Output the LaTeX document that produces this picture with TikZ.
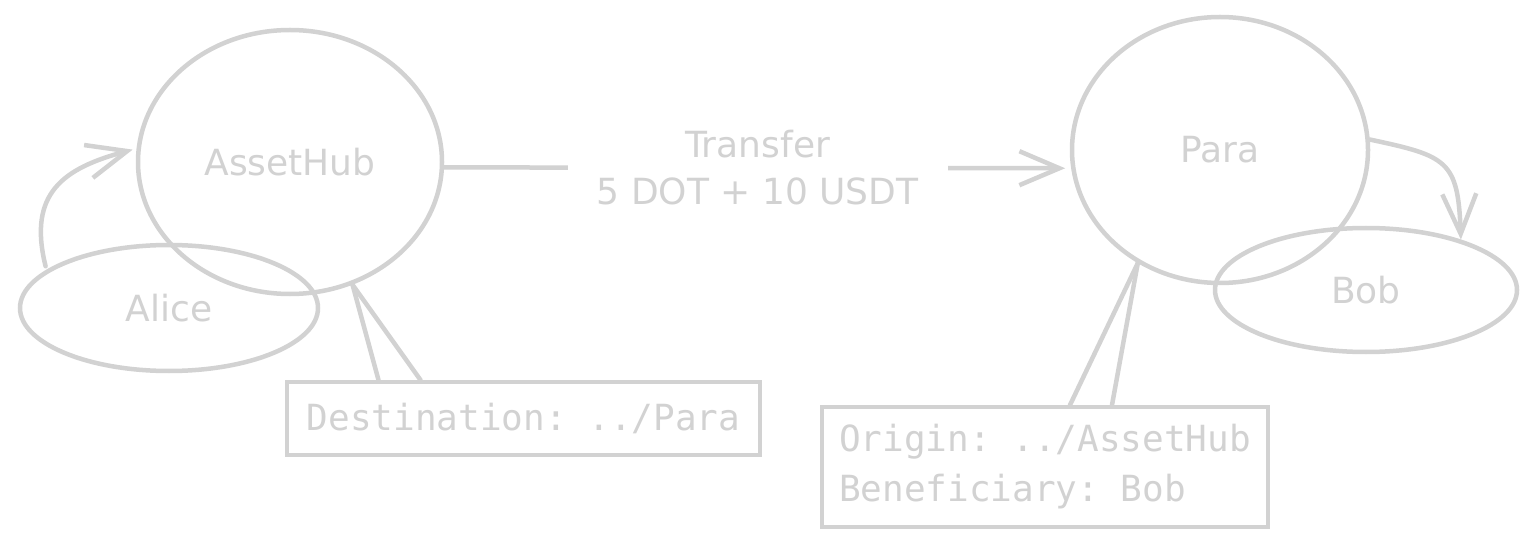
\documentclass[tikz,border=0pt]{standalone}
\usepackage{fontspec}
\setmainfont{DejaVu Sans}
\setmonofont{DejaVu Sans Mono}
\usetikzlibrary{shapes.geometric, arrows.meta}
\definecolor{sketch}{RGB}{210,210,210}

\begin{document}
\begin{tikzpicture}[x=1pt,y=1pt,
		chain/.style={ellipse,draw=sketch,line width=4.5pt,inner sep=0pt,text=sketch,font=\fontsize{36}{43}\selectfont},
		memo/.style={rectangle,draw=sketch,line width=4pt,inner sep=0pt,text=sketch,font=\ttfamily\fontsize{36}{50}\selectfont},
		link/.style={draw=sketch,line width=4.5pt,line cap=round},
		>={Straight Barb[length=40pt,width=34pt]}]
		\fill[white] (0,0) rectangle (1537,547);
		\useasboundingbox (0,0) rectangle (1537,547);
		% chains and accounts
		\node[chain,minimum width=304pt,minimum height=264pt] (hub) at (290,385) {AssetHub};
		\node[chain,minimum width=298pt,minimum height=126pt] (alice) at (169,239) {Alice};
		\node[chain,minimum width=296pt,minimum height=266pt] (para) at (1220,397) {Para};
		\node[chain,minimum width=302pt,minimum height=124pt] (bob) at (1366,257) {Bob};
		% notes
		\node[memo,minimum width=473pt,minimum height=73pt] (dest) at (523.5,128.5) {Destination: ../Para};
		\node[memo,minimum width=446pt,minimum height=120pt,align=left] (orig) at (1045,80) {Origin: ../AssetHub\\Beneficiary: Bob};
		% arrows
		\draw[link,->,shorten >=4pt] ([yshift=4pt]alice.163) to[out=104,in=195,looseness=1.3] (hub.175);
		\draw[link,->,shorten >=6pt] (hub.-2) -- node[fill=white,text=sketch,align=center,minimum width=380pt,font=\fontsize{36}{47}\selectfont] (xfer) {Transfer\\5 DOT + 10 USDT} (para.187);
		\draw[link,->] (para.4) to[out=-12,in=92,looseness=1.5] (bob.28);
		% callouts
		\draw[link] (hub.-63) -- ([xshift=-145pt]dest.north);
		\draw[link] (hub.-63) -- ([xshift=-103pt]dest.north);
		\draw[link] (para.234) -- ([xshift=25pt]orig.north);
		\draw[link] (para.234) -- ([xshift=67pt]orig.north);
	\end{tikzpicture}
\end{document}
